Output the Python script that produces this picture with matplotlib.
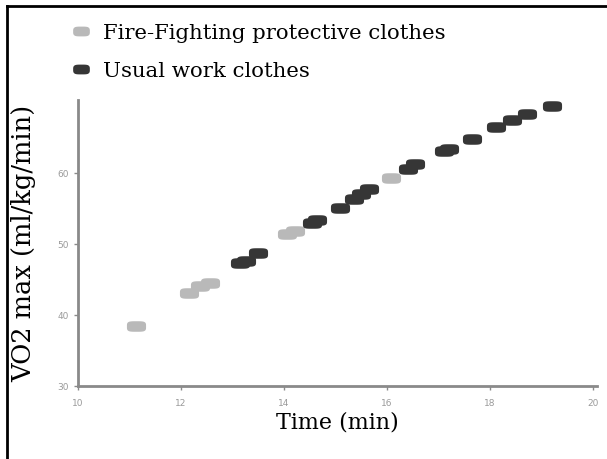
import matplotlib
matplotlib.use('Agg')
import matplotlib.pyplot as plt
from matplotlib.lines import Line2D
import numpy as np

# values
fire_x = [11.12, 12.16, 12.37, 12.57, 14.06, 14.22, 16.08]
fire_y = [38.5, 43.1, 44.1, 44.5, 51.4, 51.8, 59.3]
usual_x = [13.14, 13.27, 13.5, 14.55, 14.65, 15.08, 15.37, 15.5, 15.65,
           16.4, 16.55, 17.1, 17.2, 17.65, 18.12, 18.43, 18.73, 19.2]
usual_y = [47.3, 47.6, 48.7, 53.0, 53.4, 55.1, 56.3, 57.0, 57.7,
           60.6, 61.3, 63.1, 63.4, 64.8, 66.5, 67.5, 68.3, 69.4]
xticks = [10, 12, 14, 16, 18, 20]
yticks = [30, 40, 50, 60]

# flat rounded blob used as marker
t = np.linspace(0, 2 * np.pi, 60)
blob = np.column_stack([np.sign(np.cos(t)) * np.abs(np.cos(t)) ** 0.5 * 1.0,
                        np.sign(np.sin(t)) * np.abs(np.sin(t)) ** 0.5 * 0.55])

light = '#b9b9b9'
dark = '#363636'
serif = 'DejaVu Serif'

fig = plt.figure(figsize=(6.07, 4.59), dpi=100)
ax = fig.add_axes([78 / 607, 1 - 386 / 459, (597 - 78) / 607, (386 - 100) / 459])

ax.scatter(fire_x, fire_y, marker=blob, s=190, color=light, linewidths=0, zorder=3)
ax.scatter(usual_x, usual_y, marker=blob, s=190, color=dark, linewidths=0, zorder=3)

ax.set_xlim(10, 20.08)
ax.set_ylim(30, 70.3)
ax.set_xticks(xticks)
ax.set_yticks(yticks)
for s in ['top', 'right']:
    ax.spines[s].set_visible(False)
for s in ['left', 'bottom']:
    ax.spines[s].set_color('#8a8a8a')
    ax.spines[s].set_linewidth(2)
ax.tick_params(colors='#8a8a8a', labelcolor='#9a9a9a', labelsize=6.5, length=3, width=1)
ax.tick_params(axis='x', pad=6)

ax.set_xlabel('Time (min)', fontsize=16, family=serif, labelpad=3)
ax.set_ylabel('VO2 max (ml/kg/min)', fontsize=18.5, family=serif, labelpad=15)

handles = [Line2D([], [], ls='', marker=blob, ms=11, color=light),
           Line2D([], [], ls='', marker=blob, ms=11, color=dark)]
fig.legend(handles, ['Fire-Fighting protective clothes', 'Usual work clothes'],
           loc='upper left', bbox_to_anchor=(0.081, 0.99), frameon=False,
           prop={'family': serif, 'size': 15.3}, handlelength=1.2, handletextpad=0.45,
           labelspacing=0.9)

# frame lines on top and left of the image
fig.add_artist(Line2D([7 / 607, 1], [1 - 6 / 459, 1 - 6 / 459], color='k', lw=2,
                      transform=fig.transFigure))
fig.add_artist(Line2D([7 / 607, 7 / 607], [0, 1 - 6 / 459], color='k', lw=2,
                      transform=fig.transFigure))

plt.savefig('out.png', dpi=100)
